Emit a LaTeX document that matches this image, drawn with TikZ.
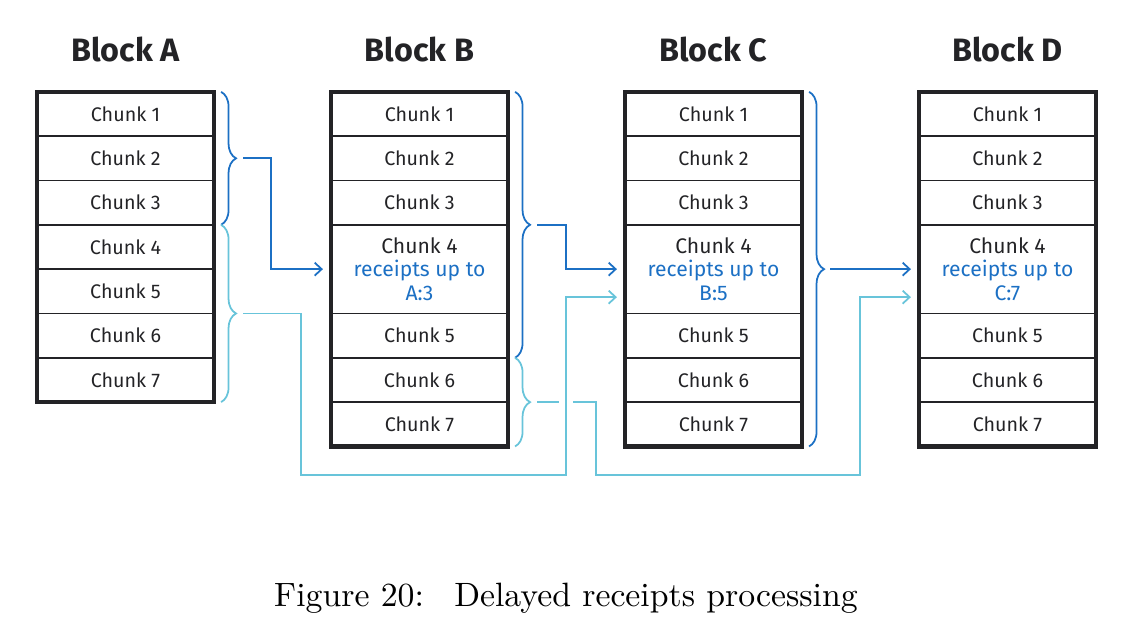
\documentclass[tikz,border=0pt]{standalone}
\usepackage{fontspec}
\newfontfamily\chunkfont{Fira Sans}
\usetikzlibrary{arrows.meta, positioning, fit, decorations.pathreplacing}
\definecolor{framegray}{RGB}{35,35,38}
\definecolor{receiptblue}{RGB}{28,112,196}
\definecolor{delaycyan}{RGB}{104,196,218}

\begin{document}
\begin{tikzpicture}[
  x=0.01cm, y=-0.01cm,
  chunk/.style={draw=framegray, line width=0.5pt, outer sep=0pt, inner sep=0pt,
    minimum width=1.77cm, minimum height=0.443cm, text=framegray,
    font=\chunkfont\fontsize{5.6}{6.7}\selectfont},
  tallchunk/.style={chunk, minimum height=0.886cm, align=center,
    font=\chunkfont\fontsize{6.0}{6.7}\selectfont},
  blockframe/.style={draw=framegray, line width=1.2pt, inner sep=0pt},
  blocktitle/.style={inner sep=0pt, text=framegray, font=\chunkfont\bfseries\fontsize{9.2}{11}\selectfont},
  curly/.style={decorate, decoration={brace, amplitude=0.15cm}, line width=0.5pt},
  receipt/.style={-{Straight Barb[length=0.07cm, width=0.13cm]}, line width=0.5pt, receiptblue},
  delayed/.style={-{Straight Barb[length=0.07cm, width=0.13cm]}, line width=0.5pt, delaycyan}
]
\useasboundingbox (0,0) rectangle (1132,636);

% block A
\node[chunk] (A1) at (125.5,114) {Chunk 1};
\foreach \k [remember=\k as \j (initially 1)] in {2,...,7}
  \node[chunk, below=0pt of A\j] (A\k) {Chunk \k};
\node[blockframe, fit=(A1)(A7)] (A) {};
\node[blocktitle, above=0.27cm of A] {Block A};

% blocks B, C, D with the receipts chunk
\foreach \b/\x/\r in {B/419.5/A:3, C/713.5/B:5, D/1007.5/C:7} {
  \node[chunk] (\b1) at (\x,114) {Chunk 1};
  \node[chunk, below=0pt of \b1] (\b2) {Chunk 2};
  \node[chunk, below=0pt of \b2] (\b3) {Chunk 3};
  \node[tallchunk, below=0pt of \b3] (\b4)
    {Chunk 4\\\textcolor{receiptblue}{receipts up to}\\\textcolor{receiptblue}{\r}};
  \node[chunk, below=0pt of \b4] (\b5) {Chunk 5};
  \node[chunk, below=0pt of \b5] (\b6) {Chunk 6};
  \node[chunk, below=0pt of \b6] (\b7) {Chunk 7};
  \node[blockframe, fit=(\b1)(\b7)] (\b) {};
  \node[blocktitle, above=0.27cm of \b] {Block \b};
}

% braces
\draw[curly, receiptblue] ([xshift=0.07cm]A1.north east) -- ([xshift=0.07cm]A3.south east);
\draw[curly, delaycyan] ([xshift=0.07cm]A4.north east) -- ([xshift=0.07cm]A7.south east);
\draw[curly, receiptblue] ([xshift=0.07cm]B1.north east) -- ([xshift=0.07cm]B5.south east);
\draw[curly, delaycyan] ([xshift=0.07cm]B6.north east) -- ([xshift=0.07cm]B7.south east);
\draw[curly, receiptblue] ([xshift=0.07cm]C1.north east) -- ([xshift=0.07cm]C7.south east);

\coordinate (tA) at ([xshift=0.29cm]A2.east);
\coordinate (tA2) at ([xshift=0.29cm]A5.south east);
\coordinate (tB) at ([xshift=0.29cm]B3.south east);
\coordinate (tB2) at ([xshift=0.29cm]B6.south east);
\coordinate (tC) at ([xshift=0.28cm]C4.east);
\coordinate (laneA) at (301,475);
\coordinate (laneB) at (596,475);
\coordinate (riseC) at ([xshift=-0.59cm, yshift=-0.28cm]C4.west);
\coordinate (riseD) at ([xshift=-0.59cm, yshift=-0.28cm]D4.west);

% receipts forwarded
\draw[receipt] (tA) -| ([xshift=-0.6cm]B4.west) -- ([xshift=-0.08cm]B4.west);
\draw[receipt] (tB) -| ([xshift=-0.59cm]C4.west) -- ([xshift=-0.08cm]C4.west);
\draw[receipt] (tC) -- ([xshift=-0.08cm]D4.west);

% delayed receipts
\draw[delayed] (tB2) -| (laneB) -| (riseD) -- ([xshift=-0.08cm, yshift=-0.28cm]D4.west);
\draw[white, line width=2pt] ([xshift=-0.07cm]riseC |- tB2) -- ([xshift=0.07cm]riseC |- tB2);
\draw[delayed] (tA2) -| (laneA) -| (riseC) -- ([xshift=-0.08cm, yshift=-0.28cm]C4.west);

\node[font=\fontsize{9.6}{12}\selectfont] (caption) at (566,598)
  {Figure 20:\hspace{0.9em}Delayed receipts processing};
\end{tikzpicture}
\end{document}
